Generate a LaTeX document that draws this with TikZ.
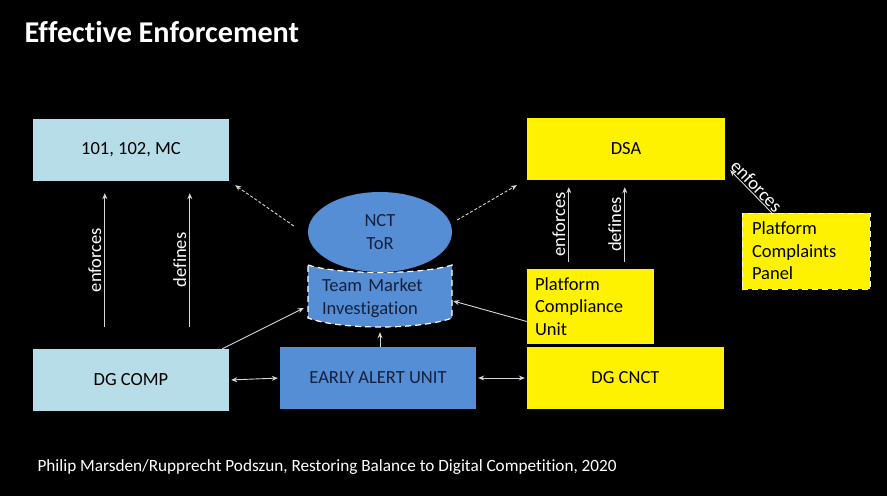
\documentclass[tikz,border=0pt]{standalone}
\usepackage{fontspec}
\setmainfont{Carlito}[Ligatures=NoCommon]
\usetikzlibrary{shapes.geometric,arrows.meta}
\definecolor{paleblue}{RGB}{183,222,232}
\definecolor{midblue}{RGB}{85,142,213}
\definecolor{navytext}{RGB}{22,32,60}
\definecolor{linegray}{RGB}{215,215,215}

\begin{document}
\begin{tikzpicture}[x=1pt,y=-1pt,
  font=\fontsize{18.5}{22.5}\selectfont,
  >={Stealth[length=6pt,width=5pt]},
  box/.style={rectangle,minimum width=196pt,minimum height=62pt,inner sep=0pt},
  cbox/.style={box,fill=paleblue},
  ybox/.style={box,fill=yellow},
  bbox/.style={box,fill=midblue,text=navytext},
  link/.style={draw=linegray,line width=0.9pt,->},
  dlink/.style={link,dash pattern=on 3pt off 2pt},
  lbl/.style={text=white,midway,sloped,above,inner sep=3pt}]

  \fill[black] (0,0) rectangle (887,496);
  \node[anchor=west,text=white,font=\fontsize{30.2}{32}\selectfont\bfseries] (title) at (21,32) {Effective Enforcement};

  % boxes
  \node[cbox] (law) at (131,150) {101, 102, MC};
  \node[ybox,minimum width=198pt] (dsa) at (626,149) {DSA};
  \node[cbox] (dgcomp) at (131,380) {DG COMP};
  \node[bbox] (eau) at (378,378) {EARLY ALERT UNIT};
  \node[ybox,minimum width=197pt] (dgcnct) at (625.5,378) {DG CNCT};
  \node[ybox,minimum width=127pt,minimum height=75pt,inner xsep=8pt,text width=111pt,align=left] (pcu) at (590.5,306.5) {Platform\\Compliance\\Unit};
  \node[ybox,draw=white,dash pattern=on 6pt off 4pt,minimum width=128pt,minimum height=76pt,inner xsep=10pt,text width=108pt,align=left] (pcp) at (806,251) {Platform\\Complaints\\Panel};

  % team and terms of reference
  \filldraw[fill=midblue,draw=white,line width=1.2pt,dash pattern=on 6pt off 4pt]
    (308,265) .. controls (340,275) and (420,275) .. (452,265) -- (452,318)
    .. controls (420,330) and (340,330) .. (308,318) -- cycle;
  \node[minimum width=146pt,minimum height=54pt,inner xsep=0pt,text width=116pt,align=left,text=navytext] (tmi) at (380,298) {Team Market\\Investigation};
  \node[ellipse,fill=midblue,minimum width=144pt,minimum height=80pt,align=center,text=navytext] (nct) at (380,232) {NCT\\ToR};

  % connectors
  \draw[link] ([xshift=72pt,yshift=22pt]dgcomp.north west) -- node[lbl]{enforces} ([xshift=72pt,yshift=-12pt]law.south west);
  \draw[link] ([xshift=157pt,yshift=22pt]dgcomp.north west) -- node[lbl]{defines} ([xshift=157pt,yshift=-12pt]law.south west);
  \draw[link] ([xshift=42pt,yshift=7pt]pcu.north west) -- node[lbl]{enforces} ([xshift=42pt,yshift=-7pt]dsa.south west);
  \draw[link] ([xshift=98pt,yshift=7pt]pcu.north west) -- node[lbl]{defines} ([xshift=98pt,yshift=-7pt]dsa.south west);
  \draw[link,<-] ([xshift=5pt,yshift=10pt]dsa.south east) -- node[lbl,inner sep=1pt]{enforces} ([xshift=30pt]pcp.north west);
  \draw[dlink] ([xshift=-14pt,yshift=6pt]nct.west) -- ([xshift=6pt,yshift=-4pt]law.south east);
  \draw[dlink] ([xshift=5pt,yshift=12pt]nct.east) -- ([xshift=-10pt,yshift=-5pt]dsa.south west);
  \draw[link] ([xshift=-7pt]dgcomp.north east) -- ([xshift=-3pt,yshift=-10pt]tmi.west);
  \draw[link] ([yshift=-15pt]pcu.west) -- ([yshift=-3pt]tmi.east);
  \draw[link] (eau.north -| tmi) -- ([yshift=-7pt]tmi.south);
  \draw[link,<->,shorten <=2pt,shorten >=2pt] (dgcomp.east) -- (eau.west);
  \draw[link,<->,shorten <=2pt,shorten >=2pt] (eau.east) -- (dgcnct.west);

  \node[anchor=west,text=white,font=\fontsize{17.2}{19}\selectfont] (src) at (34,467) {Philip Marsden/Rupprecht Podszun, Restoring Balance to Digital Competition, 2020};
\end{tikzpicture}
\end{document}
